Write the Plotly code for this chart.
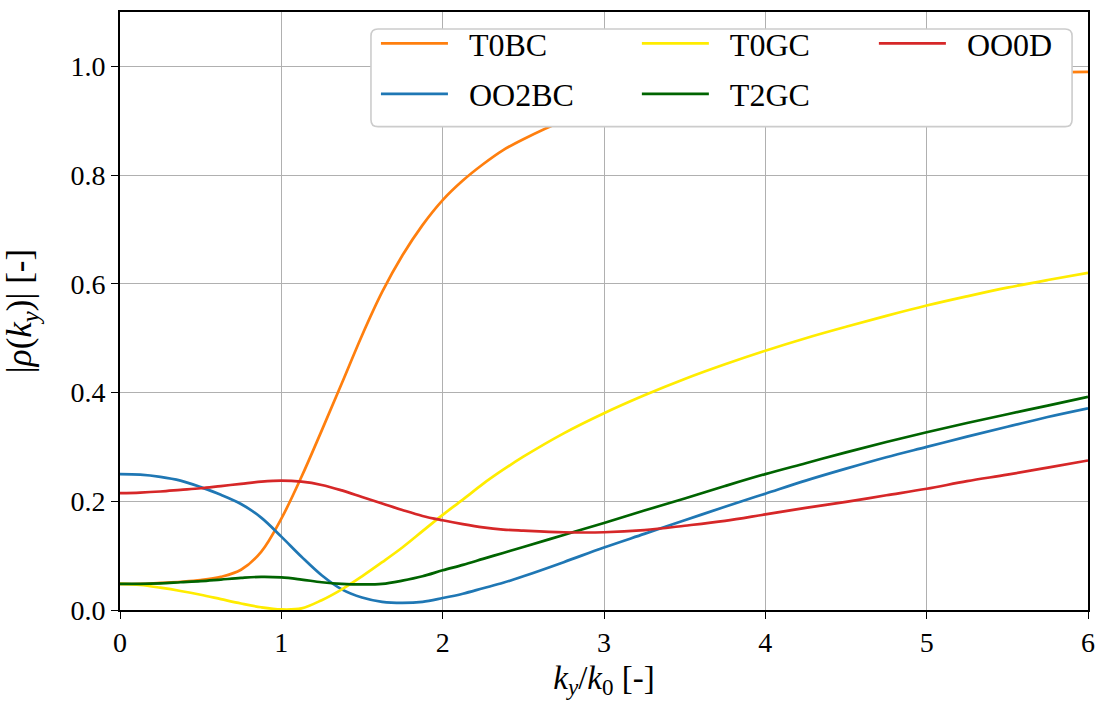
import plotly.graph_objects as go

x = [0, 0.125, 0.25, 0.375, 0.5, 0.625, 0.75, 0.875, 1.0, 1.125, 1.25, 1.375,
     1.5, 1.625, 1.75, 1.875, 2.0, 2.125, 2.25, 2.375, 2.5, 2.75, 3.0, 3.25,
     3.5, 3.75, 4.0, 4.25, 4.5, 4.75, 5.0, 5.25, 5.5, 5.75, 6.0]

t0bc = [0.048, 0.048, 0.050, 0.052, 0.055, 0.061, 0.074, 0.107, 0.168, 0.245, 0.330, 0.417,
        0.505, 0.585, 0.652, 0.708, 0.754, 0.790, 0.820, 0.846, 0.866, 0.900, 0.925, 0.942,
        0.955, 0.963, 0.970, 0.975, 0.979, 0.982, 0.985, 0.987, 0.988, 0.989, 0.990]

oo2bc = [0.250, 0.249, 0.245, 0.238, 0.226, 0.212, 0.195, 0.170, 0.135, 0.098, 0.064, 0.038,
         0.023, 0.015, 0.013, 0.015, 0.022, 0.030, 0.040, 0.050, 0.062, 0.088, 0.115, 0.140,
         0.165, 0.190, 0.214, 0.238, 0.260, 0.281, 0.300, 0.319, 0.337, 0.355, 0.371]

t0gc = [0.048, 0.046, 0.041, 0.035, 0.028, 0.020, 0.012, 0.005, 0.001, 0.003, 0.018, 0.038,
        0.062, 0.088, 0.115, 0.145, 0.175, 0.203, 0.232, 0.258, 0.282, 0.325, 0.362, 0.395,
        0.425, 0.452, 0.477, 0.500, 0.521, 0.541, 0.560, 0.577, 0.593, 0.607, 0.620]

t2gc = [0.048, 0.048, 0.049, 0.051, 0.053, 0.056, 0.059, 0.061, 0.060, 0.056, 0.051, 0.048,
        0.047, 0.048, 0.054, 0.062, 0.073, 0.083, 0.094, 0.105, 0.116, 0.138, 0.160, 0.183,
        0.205, 0.228, 0.250, 0.270, 0.290, 0.309, 0.327, 0.344, 0.360, 0.376, 0.392]

oo0d = [0.215, 0.216, 0.218, 0.221, 0.224, 0.228, 0.232, 0.236, 0.238, 0.236, 0.230, 0.220,
        0.208, 0.196, 0.184, 0.173, 0.165, 0.158, 0.152, 0.148, 0.146, 0.143, 0.143, 0.147,
        0.155, 0.164, 0.176, 0.188, 0.199, 0.211, 0.223, 0.237, 0.249, 0.262, 0.275]

# (name, values, colour, legend column)
series = [
    ("T0BC", t0bc, "#ff7f0e", "legend"),
    ("OO2BC", oo2bc, "#1f77b4", "legend"),
    ("T0GC", t0gc, "#ffec00", "legend2"),
    ("T2GC", t2gc, "#006400", "legend2"),
    ("OO0D", oo0d, "#d62728", "legend3"),
]

FONT = "Liberation Serif, DejaVu Serif, serif"
PAD = "\u00a0\u00a0"

fig = go.Figure()
for name, ys, color, leg in series:
    fig.add_trace(go.Scatter(
        x=x, y=ys, mode="lines", name=PAD + name, legend=leg, legendgroup=name,
        line=dict(color=color, width=2.7, shape="spline", smoothing=1.0),
    ))

axis_common = dict(
    showline=True, linecolor="black", linewidth=1.6, mirror=True,
    ticks="outside", ticklen=7, tickwidth=1.4, tickcolor="black",
    showgrid=True, gridcolor="#b0b0b0", gridwidth=1.4,
    zeroline=False,
    tickfont=dict(family=FONT, size=28, color="black"),
)

def leg(xpos):
    return dict(
        orientation="v", x=xpos, xanchor="left", y=(610 - 14) / 600, yanchor="top",
        bgcolor="rgba(0,0,0,0)", borderwidth=0,
        font=dict(family=FONT, size=32, color="black"),
        itemwidth=67, tracegroupgap=6,
    )

# legend frame (rounded box) in paper coordinates
x0, x1 = (372 - 120) / 972, (1076 - 120) / 972
y0, y1 = (610 - 125) / 600, (610 - 27) / 600
rx, ry = 7 / 972, 7 / 600
frame = (f"M {x0+rx},{y0} L {x1-rx},{y0} Q {x1},{y0} {x1},{y0+ry} "
         f"L {x1},{y1-ry} Q {x1},{y1} {x1-rx},{y1} L {x0+rx},{y1} "
         f"Q {x0},{y1} {x0},{y1-ry} L {x0},{y0+ry} Q {x0},{y0} {x0+rx},{y0} Z")

fig.update_layout(
    width=1105, height=703,
    margin=dict(l=120, r=13, t=10, b=93),
    paper_bgcolor="white", plot_bgcolor="white",
    font=dict(family=FONT, size=28, color="black"),
    xaxis=dict(range=[0, 6], dtick=1,
               title=dict(text="<i>k</i><sub><i>y</i></sub>/<i>k</i><sub>0</sub> [-]",
                          font=dict(family=FONT, size=33), standoff=8),
               **axis_common),
    yaxis=dict(range=[0, 1.1], tickvals=[0, 0.2, 0.4, 0.6, 0.8, 1.0], tickformat=".1f",
               title=dict(text="|<i>ρ</i>(<i>k</i><sub><i>y</i></sub>)| [-]",
                          font=dict(family=FONT, size=35), standoff=28),
               **axis_common),
    legend=leg((377 - 120) / 972),
    legend2=leg((639 - 120) / 972),
    legend3=leg((877 - 120) / 972),
    shapes=[dict(type="path", path=frame, xref="paper", yref="paper",
                 fillcolor="white", line=dict(color="#cccccc", width=1.6),
                 layer="above")],
)

fig.write_html("out.html")
